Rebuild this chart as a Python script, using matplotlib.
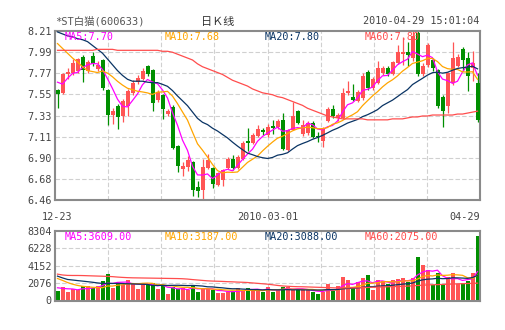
import matplotlib
matplotlib.use('Agg')
import matplotlib.pyplot as plt
import numpy as np
import pandas as pd

plt.rcParams['font.family'] = ['DejaVu Sans Mono', 'Noto Sans CJK SC']

# 日K线数据 (2009-12-23 ~ 2010-04-29)
opens = [7.60, 7.57, 7.76, 7.77, 7.80, 7.94, 7.80, 7.95, 7.82, 7.91,
         7.60, 7.34, 7.43, 7.33, 7.43, 7.57, 7.68, 7.71, 7.85, 7.81,
         7.50, 7.55, 7.35, 7.42, 7.02, 6.78, 6.80, 6.85, 6.59, 6.56,
         6.79, 6.79, 6.62, 6.67, 6.79, 6.88, 6.79, 6.88, 7.07, 7.05,
         7.12, 7.19, 7.13, 7.23, 7.22, 7.29, 6.98, 7.19, 7.38, 7.14,
         7.15, 7.26, 7.12, 7.07, 7.28, 7.40, 7.31, 7.31, 7.57, 7.53,
         7.48, 7.52, 7.79, 7.62, 7.67, 7.77, 7.83, 7.76, 7.88, 7.97,
         7.99, 7.93, 8.19, 7.76, 7.86, 7.91, 7.81, 7.53, 7.43, 7.67,
         7.85, 8.02, 7.93, 7.83, 7.67]
highs = [7.61, 7.77, 7.83, 7.92, 7.93, 7.96, 7.91, 7.99, 7.90, 7.92,
         7.61, 7.41, 7.45, 7.51, 7.61, 7.70, 7.75, 7.83, 7.86, 7.82,
         7.60, 7.56, 7.40, 7.44, 7.03, 6.85, 6.92, 6.86, 6.66, 6.88,
         6.94, 6.80, 6.75, 6.78, 6.91, 6.93, 6.93, 7.07, 7.21, 7.15,
         7.24, 7.21, 7.25, 7.29, 7.30, 7.36, 7.20, 7.47, 7.39, 7.29,
         7.28, 7.28, 7.16, 7.22, 7.42, 7.44, 7.36, 7.62, 7.69, 7.66,
         7.60, 7.77, 7.81, 7.73, 7.90, 7.85, 7.85, 7.90, 8.07, 8.15,
         8.10, 8.21, 8.21, 7.88, 8.09, 7.93, 7.82, 7.55, 7.79, 8.10,
         7.97, 8.04, 7.99, 8.00, 7.78]
lows = [7.41, 7.56, 7.71, 7.75, 7.78, 7.68, 7.77, 7.85, 7.80, 7.60,
        7.24, 7.25, 7.20, 7.27, 7.33, 7.55, 7.66, 7.70, 7.74, 7.38,
        7.47, 7.30, 7.33, 6.99, 6.75, 6.71, 6.76, 6.50, 6.49, 6.46,
        6.78, 6.58, 6.61, 6.60, 6.78, 6.77, 6.78, 6.87, 6.97, 7.04,
        7.11, 7.13, 7.11, 7.14, 7.20, 6.98, 6.97, 7.18, 7.25, 7.12,
        7.13, 7.10, 7.06, 7.01, 7.27, 7.31, 7.28, 7.30, 7.55, 7.48,
        7.47, 7.50, 7.60, 7.60, 7.66, 7.75, 7.74, 7.75, 7.87, 7.86,
        7.85, 7.90, 7.74, 7.74, 7.84, 7.80, 7.41, 7.22, 7.36, 7.65,
        7.84, 7.80, 7.59, 7.69, 7.27]
closes = [7.56, 7.76, 7.79, 7.88, 7.92, 7.81, 7.89, 7.87, 7.86, 7.62,
          7.34, 7.38, 7.32, 7.49, 7.59, 7.67, 7.72, 7.80, 7.76, 7.46,
          7.58, 7.40, 7.38, 7.00, 6.81, 6.81, 6.87, 6.56, 6.55, 6.80,
          6.87, 6.63, 6.74, 6.77, 6.88, 6.79, 6.91, 7.05, 7.05, 7.13,
          7.20, 7.16, 7.22, 7.21, 7.28, 6.99, 7.19, 7.33, 7.26, 7.24,
          7.26, 7.11, 7.11, 7.21, 7.40, 7.33, 7.34, 7.57, 7.59, 7.50,
          7.58, 7.74, 7.62, 7.71, 7.83, 7.83, 7.76, 7.89, 7.99, 7.99,
          7.96, 8.16, 7.76, 7.85, 8.07, 7.83, 7.43, 7.38, 7.77, 7.93,
          7.94, 7.91, 7.74, 7.88, 7.29]
volumes = [1129, 1640, 1045, 1330, 1247, 1723, 1723, 1450, 1723, 2317,
           3148, 1520, 2115, 1841, 2435, 2040, 1366, 2040, 1960, 2040,
           1330, 1840, 772, 1640, 1366, 1450, 1247, 1841, 1045, 1520,
           1330, 1247, 855, 927, 1045, 1164, 1520, 1129, 1520, 1300,
           1300, 1045, 1640, 1045, 1247, 1640, 1640, 1247, 1247, 1247,
           1247, 1045, 772, 1045, 1960, 1164, 1723, 2830, 2435, 1450,
           2198, 2633, 3030, 1247, 2435, 2355, 1960, 2435, 2515, 2633,
           2237, 2633, 5207, 4217, 3623, 1841, 3227, 1841, 2753, 3306,
           1960, 2115, 2355, 3227, 7662]

# 均线起始段 (窗口内数据不足时的已知均线值)
ma5_head = [7.68, 7.66, 7.72, 7.77]
ma10_head = [8.08, 8.03, 7.98, 7.93, 7.89, 7.84, 7.80, 7.79, 7.78]
ma20_head = [8.20, 8.18, 8.16, 8.15, 8.13, 8.12, 8.10, 8.06, 8.02, 7.98,
             7.92, 7.86, 7.80, 7.75, 7.71, 7.69, 7.69, 7.69, 7.68]
ma60 = [8.01, 8.01, 8.01, 8.01, 8.01, 8.01, 8.01, 8.01, 8.02, 8.02,
        8.02, 8.02, 8.01, 8.01, 8.01, 8.01, 8.01, 8.01, 8.01, 8.01,
        8.01, 8.00, 8.00, 7.99, 7.97, 7.95, 7.93, 7.91, 7.87, 7.84,
        7.82, 7.80, 7.78, 7.76, 7.73, 7.70, 7.68, 7.66, 7.64, 7.61,
        7.59, 7.57, 7.56, 7.55, 7.53, 7.52, 7.50, 7.48, 7.46, 7.44,
        7.41, 7.39, 7.37, 7.35, 7.33, 7.32, 7.31, 7.30, 7.30, 7.30,
        7.30, 7.30, 7.29, 7.29, 7.29, 7.29, 7.29, 7.30, 7.30, 7.30,
        7.31, 7.32, 7.32, 7.33, 7.33, 7.34, 7.34, 7.34, 7.34, 7.34,
        7.35, 7.35, 7.36, 7.37, 7.38]

vma5_head = [1520, 1450, 1400, 1380]
vma10_head = [2630, 2400, 2150, 1950, 1800, 1700, 1640, 1580, 1550]
vma20_head = [2910, 2700, 2515, 2450, 2380, 2317, 2250, 2180, 2100, 2040,
              2040, 2040, 2040, 2020, 2000, 1980, 1960, 1940, 1920]
vma60 = [3150, 3050, 3000, 2990, 2990, 2980, 2960, 2940, 2920, 2900,
         2880, 2850, 2800, 2760, 2730, 2710, 2700, 2690, 2680, 2670,
         2660, 2650, 2640, 2630, 2620, 2600, 2560, 2500, 2450, 2400,
         2350, 2320, 2300, 2280, 2250, 2230, 2200, 2180, 2150, 2100,
         2050, 2000, 1950, 1880, 1800, 1740, 1700, 1670, 1650, 1640,
         1620, 1600, 1580, 1560, 1540, 1520, 1500, 1500, 1500, 1510,
         1520, 1540, 1560, 1580, 1600, 1620, 1640, 1660, 1680, 1700,
         1720, 1750, 1790, 1830, 1860, 1880, 1900, 1920, 1940, 1960,
         1990, 2010, 2030, 2050, 2075]

price_ticks = ['8.21', '7.99', '7.77', '7.55', '7.33', '7.11', '6.90', '6.68', '6.46']
vol_ticks = ['8304', '6228', '4152', '2076', '0']
date_labels = ['12-23', '2010-03-01', '04-29']

price_legend = ['MA5:7.70', 'MA10:7.68', 'MA20:7.80', 'MA60:7.80']
vol_legend = ['MA5:3609.00', 'MA10:3187.00', 'MA20:3088.00', 'MA60:2075.00']

RED = '#ff5454'
GREEN = '#008f00'
MA_COLORS = ['#ff00ff', '#ffa500', '#0a3464', '#ff4d4d']
GRID = '#d0d0d0'
FRAME = '#8a8a8a'
TXT = '#444444'


def moving_avg(values, n, head):
    ma = pd.Series(values, dtype=float).rolling(n).mean().to_numpy()
    ma[:len(head)] = head
    return ma


def style_axes(ax, ymin, ymax, labels):
    ax.set_xlim(-0.5, len(closes) - 0.5)
    ax.set_ylim(ymin, ymax)
    ticks = np.linspace(ymax, ymin, len(labels))
    ax.set_yticks(ticks)
    ax.set_yticklabels(labels)
    for t in ticks[1:-1]:
        ax.axhline(t, color=GRID, lw=0.8, ls=(0, (4, 2)), zorder=0)
    for k in range(1, 8):
        ax.axvline(-0.5 + len(closes) / 8 * k, color=GRID, lw=0.8, ls=(0, (4, 2)), zorder=0)
    for s in ax.spines.values():
        s.set_color(FRAME)
        s.set_linewidth(1.5)
    ax.tick_params(axis='y', length=0, pad=2.5, labelsize=7.3, labelcolor=TXT)
    ax.tick_params(axis='x', length=0)


fig = plt.figure(figsize=(5.05, 3.30), dpi=100)
ax = fig.add_axes([55 / 505, 1 - 200 / 330, 425 / 505, 169 / 330])
axv = fig.add_axes([55 / 505, 1 - 300.5 / 330, 425 / 505, 69.5 / 330])

x = np.arange(len(closes))
o = np.array(opens)
c = np.array(closes)
up = c >= o
colors = np.where(up, RED, GREEN)

# K线
ax.vlines(x, lows, highs, colors=colors, lw=0.9, zorder=2)
body_low = np.minimum(o, c)
body_h = np.maximum(np.abs(c - o), 0.012)
ax.bar(x, body_h, bottom=body_low, width=0.8, color=colors, lw=0, zorder=3)

ma_lines = [moving_avg(closes, 5, ma5_head), moving_avg(closes, 10, ma10_head),
            moving_avg(closes, 20, ma20_head), np.array(ma60)]
for ma, col in zip(ma_lines, MA_COLORS):
    ax.plot(x, ma, color=col, lw=0.9, zorder=4)

style_axes(ax, 6.46, 8.21, price_ticks)
ax.set_xticks([0, 42, len(closes) - 0.5])
ax.set_xticklabels(date_labels)
ax.tick_params(axis='x', pad=9, labelsize=7.3, labelcolor=TXT)
ax.get_xticklabels()[-1].set_horizontalalignment('right')

# 成交量
axv.bar(x, volumes, width=0.8, color=colors, lw=0, zorder=2)
vma_lines = [moving_avg(volumes, 5, vma5_head), moving_avg(volumes, 10, vma10_head),
             moving_avg(volumes, 20, vma20_head), np.array(vma60)]
for ma, col in zip(vma_lines, MA_COLORS):
    axv.plot(x, ma, color=col, lw=0.9, zorder=4)
style_axes(axv, 0, 8304, vol_ticks)
axv.set_xticks([])

for k, (t1, t2, col) in enumerate(zip(price_legend, vol_legend, MA_COLORS)):
    xpos = (10 + 100 * k) / 425
    ax.text(xpos, 0.967, t1, color=col, fontsize=7.3, va='center', transform=ax.transAxes, zorder=5)
    axv.text(xpos, 0.918, t2, color=col, fontsize=7.3, va='center', transform=axv.transAxes, zorder=5)

fig.text(55 / 505, 1 - 21.5 / 330, '*ST白猫(600633)', color='#555555', fontsize=7.5, va='center')
fig.text(201 / 505, 1 - 21.5 / 330, '日Ｋ线', color='#333333', fontsize=8, va='center')
fig.text(479 / 505, 1 - 21.5 / 330, '2010-04-29 15:01:04', color=TXT, fontsize=7.3, va='center', ha='right')

fig.savefig('out.png', dpi=100, facecolor='white')
